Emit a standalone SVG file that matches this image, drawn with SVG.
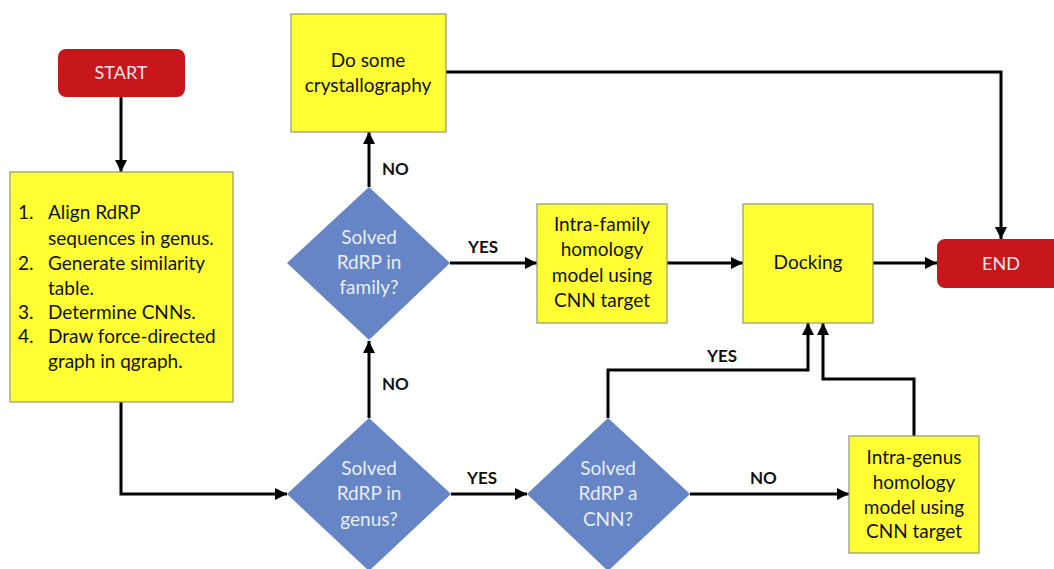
<svg xmlns="http://www.w3.org/2000/svg" width="1054" height="569" viewBox="0 0 1054 569">
<defs>
<marker id="ah" viewBox="0 0 10 10" refX="10" refY="5" markerWidth="4" markerHeight="4" markerUnits="strokeWidth" orient="auto">
<path d="M0,0 L10,5 L0,10 z" fill="#000"/>
</marker>
<style>
.term{fill:#C8161D;}
.termt{fill:#F2E6E6;font-family:Lato,"Liberation Sans",sans-serif;font-size:18px;text-anchor:middle;}
.box{fill:#FFFF33;stroke:#8C9A73;stroke-width:1.2;}
.boxt{fill:#111;font-family:Lato,"Liberation Sans",sans-serif;font-size:19px;text-anchor:middle;}
.listt{fill:#111;font-family:Lato,"Liberation Sans",sans-serif;font-size:19px;}
.dia{fill:#6585C6;}
.diat{fill:#E9EEF7;font-family:Lato,"Liberation Sans",sans-serif;font-size:19px;text-anchor:middle;}
.lbl{fill:#111;font-family:Lato,"Liberation Sans",sans-serif;font-size:17px;font-weight:bold;}
.c{fill:none;stroke:#000;stroke-width:3;marker-end:url(#ah);}
</style>
</defs>
<rect width="1054" height="569" fill="#fff"/>

<g id="connectors">
<path class="c" d="M121,97 V172"/>
<path class="c" d="M121,402 V494 H287"/>
<path class="c" d="M369,418 V341"/>
<path class="c" d="M369,187 V132"/>
<path class="c" d="M450,263 H537"/>
<path class="c" d="M667,263 H743"/>
<path class="c" d="M873,263 H937"/>
<path class="c" d="M446,72 H1001 V239"/>
<path class="c" d="M451,494 H527"/>
<path class="c" d="M690,494 H849"/>
<path class="c" d="M608,418 V370 H808 V323"/>
<path class="c" d="M914,436 V379 H823 V323"/>
</g>

<g id="labels">
<text class="lbl" x="382" y="175">NO</text>
<text class="lbl" x="382" y="390">NO</text>
<text class="lbl" x="468" y="253">YES</text>
<text class="lbl" x="467" y="484">YES</text>
<text class="lbl" x="707" y="362">YES</text>
<text class="lbl" x="750" y="484">NO</text>
</g>

<g id="start">
<rect class="term" x="58" y="49" width="127" height="48" rx="8"/>
<text class="termt" x="121" y="79">START</text>
</g>

<g id="steps">
<rect class="box" x="10" y="172" width="223" height="230"/>
<text class="listt" x="18" y="219">1.</text>
<text class="listt" x="48" y="219">Align RdRP</text>
<text class="listt" x="48" y="245">sequences in genus.</text>
<text class="listt" x="18" y="270">2.</text>
<text class="listt" x="48" y="270">Generate similarity</text>
<text class="listt" x="48" y="295">table.</text>
<text class="listt" x="18" y="319">3.</text>
<text class="listt" x="48" y="319">Determine CNNs.</text>
<text class="listt" x="18" y="343">4.</text>
<text class="listt" x="48" y="343">Draw force-directed</text>
<text class="listt" x="48" y="368">graph in qgraph.</text>
</g>

<g id="crystallography">
<rect class="box" x="291" y="14" width="155" height="118"/>
<text class="boxt" x="368" y="67">Do some</text>
<text class="boxt" x="368" y="92">crystallography</text>
</g>

<g id="family-decision">
<polygon class="dia" points="369,187 450,263 369,340 287,263"/>
<text class="diat" x="369" y="244">Solved</text>
<text class="diat" x="369" y="269">RdRP in</text>
<text class="diat" x="369" y="294">family?</text>
</g>

<g id="genus-decision">
<polygon class="dia" points="369,418 451,494 369,571 287,494"/>
<text class="diat" x="369" y="475">Solved</text>
<text class="diat" x="369" y="500">RdRP in</text>
<text class="diat" x="369" y="526">genus?</text>
</g>

<g id="cnn-decision">
<polygon class="dia" points="608,418 690,494 608,571 527,494"/>
<text class="diat" x="608" y="475">Solved</text>
<text class="diat" x="608" y="500">RdRP a</text>
<text class="diat" x="608" y="526">CNN?</text>
</g>

<g id="intra-family">
<rect class="box" x="537" y="204" width="130" height="119"/>
<text class="boxt" x="602" y="231">Intra-family</text>
<text class="boxt" x="602" y="256">homology</text>
<text class="boxt" x="602" y="282">model using</text>
<text class="boxt" x="602" y="307">CNN target</text>
</g>

<g id="docking">
<rect class="box" x="743" y="204" width="130" height="119"/>
<text class="boxt" x="808" y="269">Docking</text>
</g>

<g id="end">
<rect class="term" x="937" y="239" width="127" height="49" rx="8"/>
<text class="termt" x="1001" y="270">END</text>
</g>

<g id="intra-genus">
<rect class="box" x="849" y="436" width="130" height="117"/>
<text class="boxt" x="914" y="464">Intra-genus</text>
<text class="boxt" x="914" y="489">homology</text>
<text class="boxt" x="914" y="514">model using</text>
<text class="boxt" x="914" y="538">CNN target</text>
</g>
</svg>
